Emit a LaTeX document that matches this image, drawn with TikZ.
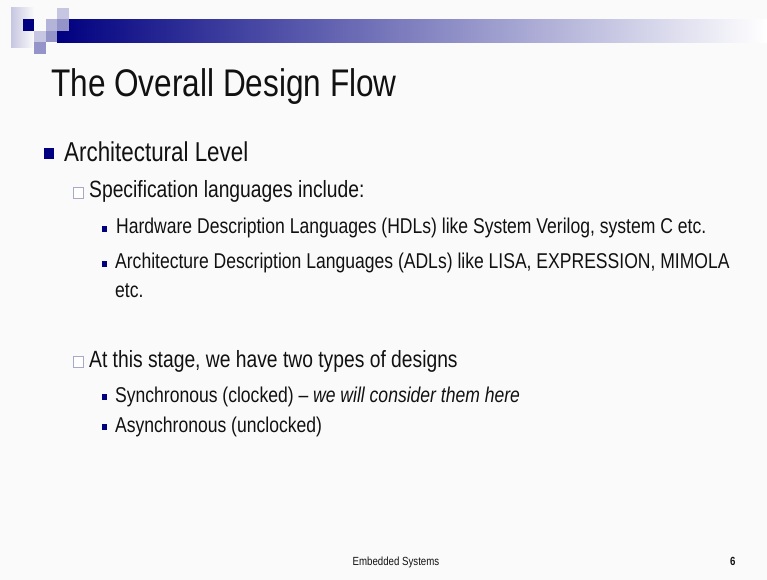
\documentclass[tikz,border=0pt]{standalone}
\usepackage{fontspec}
\setmainfont[FakeStretch=0.82]{Liberation Sans}
\definecolor{slidebg}{HTML}{FAFAFA}
\definecolor{navy}{HTML}{000080}
\definecolor{tilepale}{HTML}{C6C6E2}
\definecolor{tilelight}{HTML}{B4B4D8}
\definecolor{tilemid}{HTML}{9494C8}
\definecolor{boxedge}{HTML}{A8A8C8}
\definecolor{ink}{HTML}{111111}
\tikzset{
  txt/.style={anchor=base west, inner sep=0pt, text=ink},
  titlefont/.style={font=\fontsize{38.5bp}{46bp}\selectfont},
  lvlone/.style={font=\fontsize{27.3bp}{32bp}\selectfont},
  lvltwo/.style={font=\fontsize{23.5bp}{28bp}\selectfont},
  lvlthree/.style={font=\fontsize{21.4bp}{29bp}\selectfont},
  footfont/.style={font=\fontsize{11.8bp}{14bp}\selectfont},
}
\begin{document}
\begin{tikzpicture}[x=1bp,y=-1bp]
% slide background
\useasboundingbox[fill=slidebg] (0,0) rectangle (767,580);

% header decoration: faded block, gradient bar and tiles
\shade[left color=tilepale, right color=slidebg] (11,8) rectangle (34,48);
\shade[left color=navy, right color=white] (57,19.5) rectangle (767,42.5);
\fill[navy] (22.5,19.5) rectangle (34,31);
\fill[tilepale] (57,8) rectangle (68.5,19.5);
\fill[tilelight] (45.5,19.5) rectangle (57,31);
\fill[tilemid] (57,19.5) rectangle (68.5,31);
\fill[tilepale] (34,31) rectangle (45.5,42.5);
\fill[tilemid] (45.5,31) rectangle (57,42.5);
\fill[tilemid] (34,42.5) rectangle (45.5,54);

% title
\node[txt, titlefont] (title) at (51,97) {The Overall Design Flow};

% level 1
\fill[navy] (44,148) rectangle (54,159);
\node[txt, lvlone] (arch) at (64,162) {Architectural Level};

% level 2: specification languages
\draw[boxedge, fill=white, line width=0.8bp] (73.5,187.5) rectangle (83.5,198);
\node[txt, lvltwo] (spec) at (89,198) {Specification languages include:};

\fill[navy] (101.5,226) rectangle (107,232);
\node[txt, lvlthree] (hdl) at (116,233) {Hardware Description Languages (HDLs) like System Verilog, system C etc.};

\fill[navy] (101.5,261) rectangle (107,267);
\node[txt, lvlthree] (adl) at (115,268) {Architecture Description Languages (ADLs) like LISA, EXPRESSION, MIMOLA};
\node[txt, lvlthree] (adletc) at (115,297) {etc.};

% level 2: design types
\draw[boxedge, fill=white, line width=0.8bp] (73.5,356) rectangle (83.5,367);
\node[txt, lvltwo] (stage) at (89,367) {At this stage, we have two types of designs};

\fill[navy] (101.5,394) rectangle (107,400);
\node[txt, lvlthree] (sync) at (115,402) {Synchronous (clocked) -- \textit{we will consider them here}};

\fill[navy] (101.5,424) rectangle (107,430);
\node[txt, lvlthree] (async) at (115,432) {Asynchronous (unclocked)};

% footer
\node[txt, footfont] (foot) at (352.5,565) {Embedded Systems};
\node[txt, footfont] (page) at (730,565) {\bfseries 6};
\end{tikzpicture}
\end{document}
